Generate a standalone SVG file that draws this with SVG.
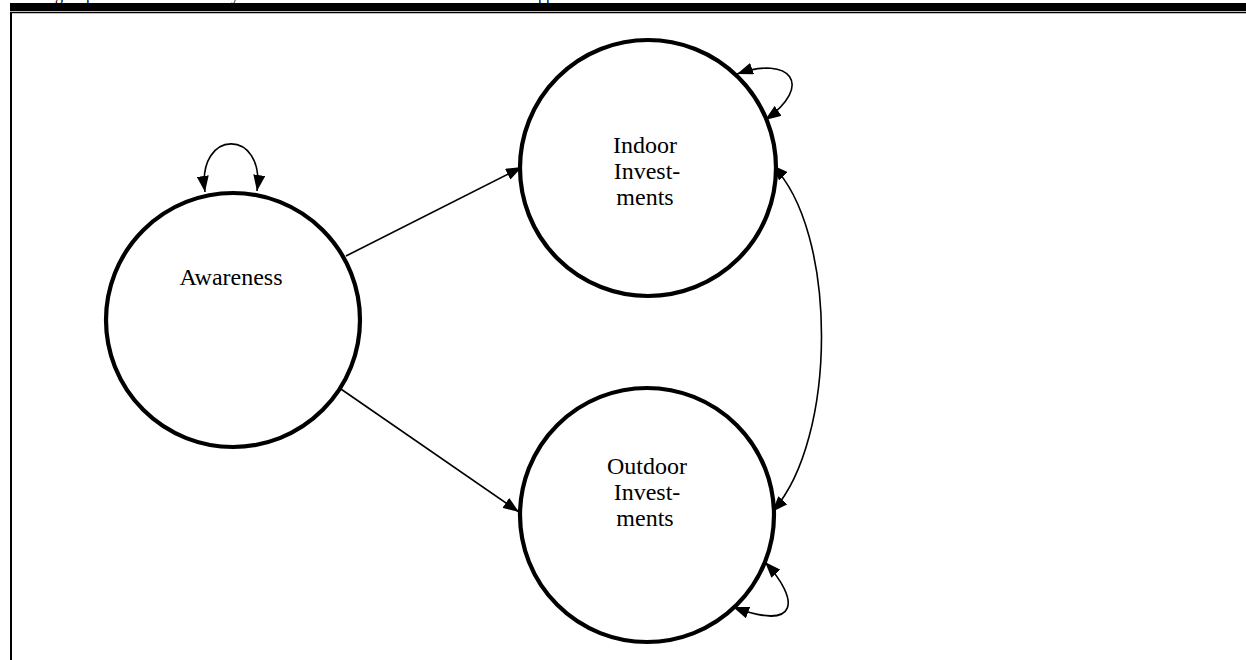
<svg xmlns="http://www.w3.org/2000/svg" width="1246" height="660" viewBox="0 0 1246 660">
  <style>
    .node { fill: #fff; stroke: #000; stroke-width: 4.2; }
    .label { font-family: "Liberation Serif", "Times New Roman", serif; font-size: 24px; fill: #000; text-anchor: middle; }
    .edge { fill: none; stroke: #000; stroke-width: 1.6; }
    .cut { font-family: "Liberation Serif", "Times New Roman", serif; font-size: 16px; fill: #000; }
  </style>
  <defs>
    <marker id="head" viewBox="0 0 16 12" refX="16" refY="6" markerWidth="16" markerHeight="12" markerUnits="userSpaceOnUse" orient="auto-start-reverse">
      <path d="M0,0 L16,6 L0,12 Z" fill="#000"/>
    </marker>
  </defs>

  <rect width="1246" height="660" fill="#fff"/>

  <!-- heading line clipped by the page edge -->
  <g id="heading">
    <text class="cut" x="55" y="-0.5">g</text>
    <text class="cut" x="86" y="-0.5">p</text>
    <text class="cut" x="231" y="-0.5">y</text>
    <text class="cut" x="538" y="-0.5">pp</text>
  </g>

  <!-- table frame -->
  <g id="frame">
    <rect x="10" y="3" width="1236" height="8" fill="#000"/>
    <line x1="10" y1="12.5" x2="1246" y2="12.5" stroke="#000" stroke-width="1.5"/>
    <line x1="11" y1="12" x2="11" y2="660" stroke="#000" stroke-width="2"/>
  </g>

  <g id="connectors">
    <!-- Awareness -> Indoor -->
    <line class="edge" x1="346" y1="256" x2="522" y2="167" marker-end="url(#head)"/>
    <!-- Awareness -> Outdoor -->
    <line class="edge" x1="338" y1="387" x2="519" y2="512" marker-end="url(#head)"/>
    <!-- Awareness self loop -->
    <path class="edge" d="M205,192 C196,128 266,128 257,191" marker-start="url(#head)" marker-end="url(#head)"/>
    <!-- Indoor self loop -->
    <path class="edge" d="M737,74 C790,55 815,85 765,120" marker-start="url(#head)" marker-end="url(#head)"/>
    <!-- Outdoor self loop -->
    <path class="edge" d="M765,562 C800,600 800,632 733,607" marker-start="url(#head)" marker-end="url(#head)"/>
    <!-- Indoor <-> Outdoor -->
    <path class="edge" d="M772,165 C838,230 838,440 772,512" marker-start="url(#head)" marker-end="url(#head)"/>
  </g>

  <g id="awareness">
    <circle class="node" cx="233" cy="320" r="127"/>
    <text class="label" x="231" y="285">Awareness</text>
  </g>

  <g id="indoor">
    <circle class="node" cx="648" cy="168" r="128"/>
    <text class="label" x="645" y="153">Indoor</text>
    <text class="label" x="647" y="179">Invest-</text>
    <text class="label" x="645" y="205">ments</text>
  </g>

  <g id="outdoor">
    <circle class="node" cx="647" cy="515" r="127"/>
    <text class="label" x="647" y="474">Outdoor</text>
    <text class="label" x="647" y="500">Invest-</text>
    <text class="label" x="645" y="526">ments</text>
  </g>
</svg>
